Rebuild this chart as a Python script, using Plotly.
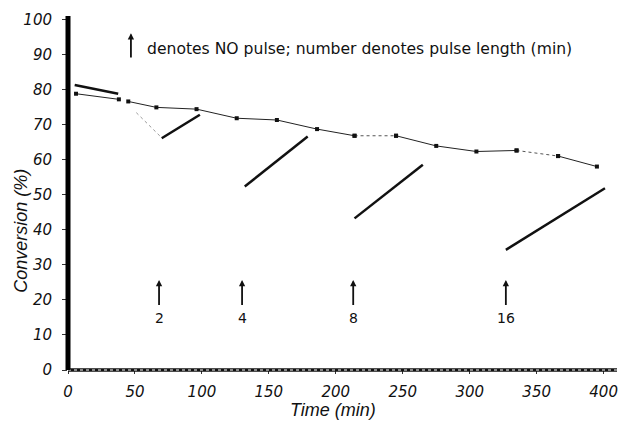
import plotly.graph_objects as go

# ---- data ----
# main (no-pulse) conversion curve, split into solid / dotted pieces
main_a_t = [6, 38]
main_a_c = [78.9, 77.3]
main_b_t = [45, 66, 96, 126, 156, 186, 214]
main_b_c = [76.7, 75.0, 74.5, 71.9, 71.4, 68.8, 66.9]
main_gap1_t = [214, 245]
main_gap1_c = [66.9, 66.9]
main_c_t = [245, 275, 305, 335]
main_c_c = [66.9, 64.0, 62.4, 62.7]
main_gap2_t = [335, 366]
main_gap2_c = [62.7, 61.1]
main_d_t = [366, 395]
main_d_c = [61.1, 58.1]

# initial high segment
init_t = [5, 37.5]
init_c = [81.4, 78.9]

# faint dotted drop before the 2-min pulse recovery
drop_t = [51, 69]
drop_c = [73.5, 66.7]

# recovery lines after each pulse
pulse2_t = [70, 98.5]
pulse2_c = [66.2, 72.9]
pulse4_t = [132, 179]
pulse4_c = [52.4, 66.7]
pulse8_t = [214, 265]
pulse8_c = [43.3, 58.6]
pulse16_t = [327, 401]
pulse16_c = [34.3, 51.9]

# NO pulse arrows
arrow_t = [68, 130, 213, 327]
arrow_labels = ["2", "4", "8", "16"]
arrow_tip = 25.7
arrow_base = 18.1
label_c = 14.8

legend_arrow_t = 47
legend_arrow_tip = 96.2
legend_arrow_base = 88.8
legend_text = "denotes NO pulse; number denotes pulse length (min)"

x_ticks = [0, 50, 100, 150, 200, 250, 300, 350, 400]
y_ticks = [0, 10, 20, 30, 40, 50, 60, 70, 80, 90, 100]

FONT = "Liberation Sans"
WIDE = "DejaVu Sans"
fig = go.Figure()

def thin(t, c, dash="solid", color="#222", markers=True, width=1):
    fig.add_trace(go.Scatter(
        x=t, y=c, mode="lines+markers" if markers else "lines",
        line=dict(color=color, width=width, dash=dash),
        marker=dict(symbol="square", size=4, color="#111"),
        showlegend=False, hoverinfo="skip"))

thin(main_a_t, main_a_c)
thin(main_b_t, main_b_c)
thin(main_gap1_t, main_gap1_c, dash="dot", color="#555")
thin(main_c_t, main_c_c)
thin(main_gap2_t, main_gap2_c, dash="dot", color="#555")
thin(main_d_t, main_d_c)
thin(drop_t, drop_c, dash="dot", color="#999", markers=False)

for t, c in [(init_t, init_c), (pulse2_t, pulse2_c), (pulse4_t, pulse4_c),
             (pulse8_t, pulse8_c), (pulse16_t, pulse16_c)]:
    fig.add_trace(go.Scatter(x=t, y=c, mode="lines",
                             line=dict(color="#111", width=2.5),
                             showlegend=False, hoverinfo="skip"))

annotations = []
for t, lab in zip(arrow_t, arrow_labels):
    annotations.append(dict(x=t, y=arrow_tip, ax=t, ay=arrow_base,
                            xref="x", yref="y", axref="x", ayref="y",
                            showarrow=True, arrowhead=2, arrowsize=0.7,
                            arrowwidth=1.8, arrowcolor="#111", text=""))
    annotations.append(dict(x=t, y=label_c, xref="x", yref="y",
                            text=lab, showarrow=False,
                            font=dict(family=WIDE, size=14, color="#111")))

annotations.append(dict(x=legend_arrow_t, y=legend_arrow_tip,
                        ax=legend_arrow_t, ay=legend_arrow_base,
                        xref="x", yref="y", axref="x", ayref="y",
                        showarrow=True, arrowhead=2, arrowsize=0.7,
                        arrowwidth=1.8, arrowcolor="#111", text=""))
annotations.append(dict(x=(145 - 68) / 549, y=(370 - 49) / 353.5,
                        xref="paper", yref="paper",
                        xanchor="left", yanchor="middle", text=legend_text,
                        showarrow=False,
                        font=dict(family=WIDE, size=15.6, color="#111")))

# axis titles
annotations.append(dict(x=(333 - 68) / 549, y=-(410 - 370) / 353.5,
                        xref="paper", yref="paper", text="Time (min)",
                        showarrow=False, xanchor="center", yanchor="middle",
                        font=dict(family=FONT, size=18, color="#111", style="italic")))
annotations.append(dict(x=-(68 - 21) / 549, y=(370 - 231) / 353.5,
                        xref="paper", yref="paper", text="Conversion (%)",
                        showarrow=False, textangle=-90,
                        xanchor="center", yanchor="middle",
                        font=dict(family=FONT, size=18, color="#111", style="italic")))

tickfont = dict(family=WIDE, size=15, color="#111", style="italic")

fig.update_layout(
    width=621, height=423,
    margin=dict(l=68, r=4, t=16, b=53),
    paper_bgcolor="white", plot_bgcolor="white",
    annotations=annotations,
    xaxis=dict(range=[0, 410], tickvals=x_ticks, ticks="outside", ticklen=3,
               tickcolor="#333", showgrid=False, zeroline=False,
               showline=False, tickfont=tickfont, ticklabelstandoff=5),
    yaxis=dict(range=[0, 101.1], tickvals=y_ticks, ticks="outside", ticklen=5,
               tickcolor="#333", showgrid=False, zeroline=False,
               showline=False, tickfont=tickfont, ticklabelstandoff=7),
    shapes=[
        dict(type="line", xref="paper", yref="paper", x0=0, x1=1, y0=0, y1=0,
             line=dict(color="#111", width=3.5)),
        dict(type="line", xref="paper", yref="paper", x0=0, x1=1, y0=0, y1=0,
             line=dict(color="white", width=1, dash="dot")),
        dict(type="line", xref="paper", yref="paper", x0=0, x1=0, y0=0, y1=1,
             line=dict(color="#000", width=5)),
    ],
)

fig.write_html("out.html")
